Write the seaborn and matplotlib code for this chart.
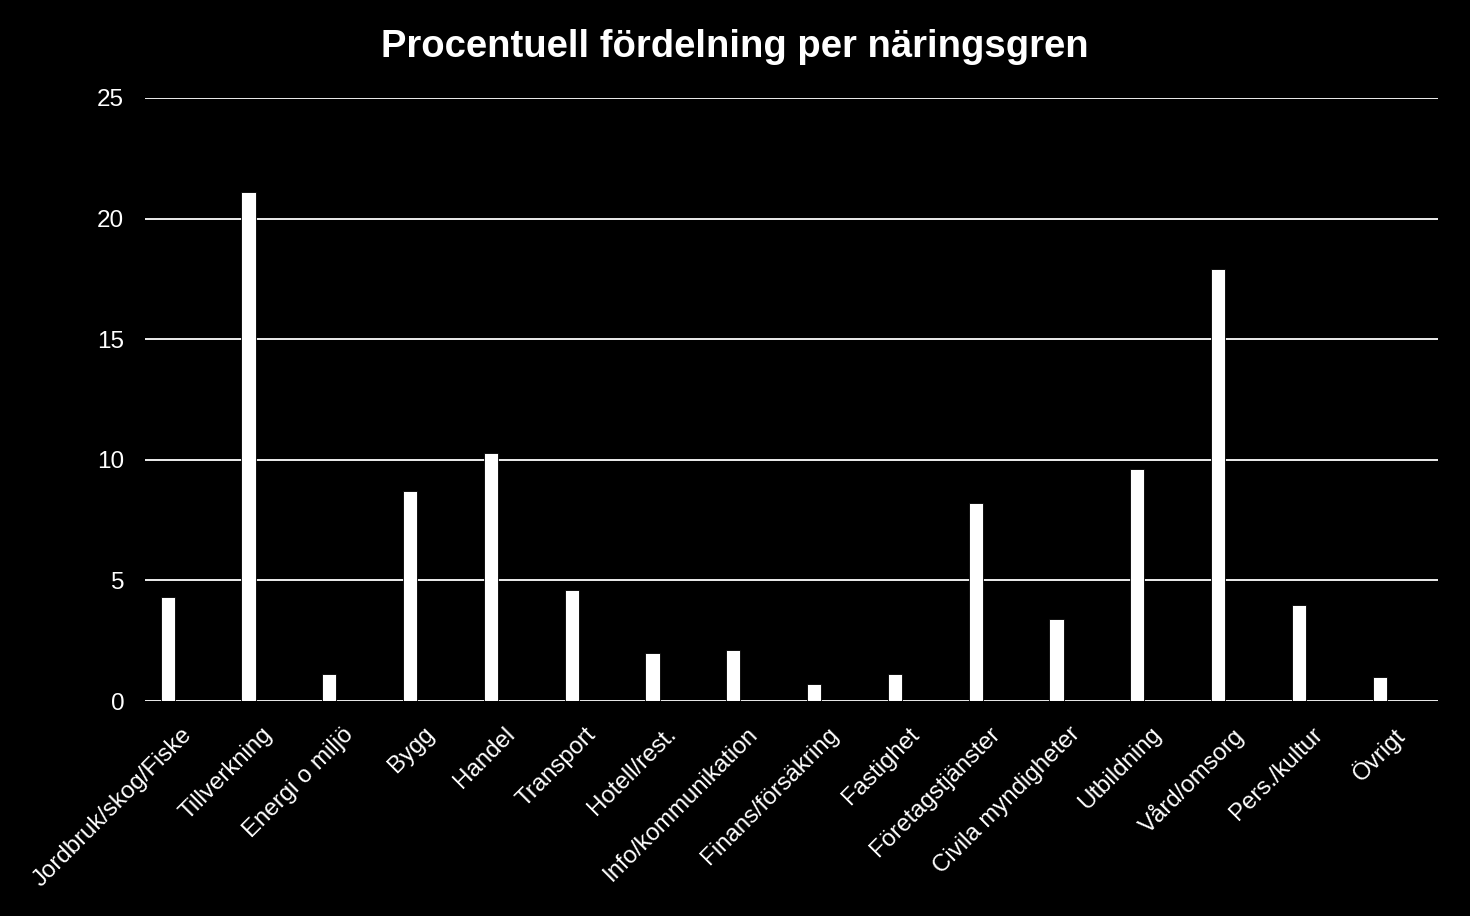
import numpy as np
import pandas as pd
import matplotlib
matplotlib.use("Agg")
import matplotlib.pyplot as plt
import seaborn as sns

categories = ["Jordbruk/skog/Fiske", "Tillverkning", "Energi o miljö", "Bygg", "Handel",
              "Transport", "Hotell/rest.", "Info/kommunikation", "Finans/försäkring",
              "Fastighet", "Företagstjänster", "Civila myndigheter", "Utbildning",
              "Vård/omsorg", "Pers./kultur", "Övrigt"]
values = [4.3, 21.1, 1.1, 8.7, 10.3, 4.6, 2.0, 2.1, 0.7, 1.1, 8.2, 3.4, 9.6, 17.9, 4.0, 1.0]
yticks = [0, 5, 10, 15, 20, 25]

df = pd.DataFrame({"cat": categories, "val": values})

sns.set_theme(style="dark")
plt.rcParams['font.family'] = ['Liberation Sans', 'DejaVu Sans']

fig = plt.figure(figsize=(14.7, 9.16), dpi=100, facecolor="black")
ax = fig.add_axes([145/1470, 1 - 701/916, (1438-145)/1470, (701-98)/916])
ax.set_facecolor("black")

sns.barplot(data=df, x="cat", y="val", color="white", saturation=1, width=0.175,
            edgecolor="black", linewidth=0.6, ax=ax, zorder=3)

ax.set_ylim(0, 25)
ax.set_yticks(yticks)
ax.set_yticklabels([str(t) for t in yticks], color="white", fontsize=17.5)
ax.set_xlim(-0.28, 15.72)
ax.set_xticks(np.arange(len(categories)) + 0.16)
ax.set_xticklabels(categories, rotation=45, ha="right", rotation_mode="anchor",
                   color="white", fontsize=17.3)
ax.tick_params(axis="x", length=0, pad=16)
ax.tick_params(axis="y", length=0, pad=15)
ax.grid(axis="y", color="white", linewidth=1.3, zorder=0)
ax.grid(axis="x", visible=False)
for s in ax.spines.values():
    s.set_visible(False)
ax.set_xlabel("")
ax.set_ylabel("")

fig.text(0.5, 1 - 47/916, "Procentuell fördelning per näringsgren", ha="center", va="center",
         color="white", fontsize=27.5, fontweight="bold")

fig.savefig("out.png", dpi=100, facecolor="black")
